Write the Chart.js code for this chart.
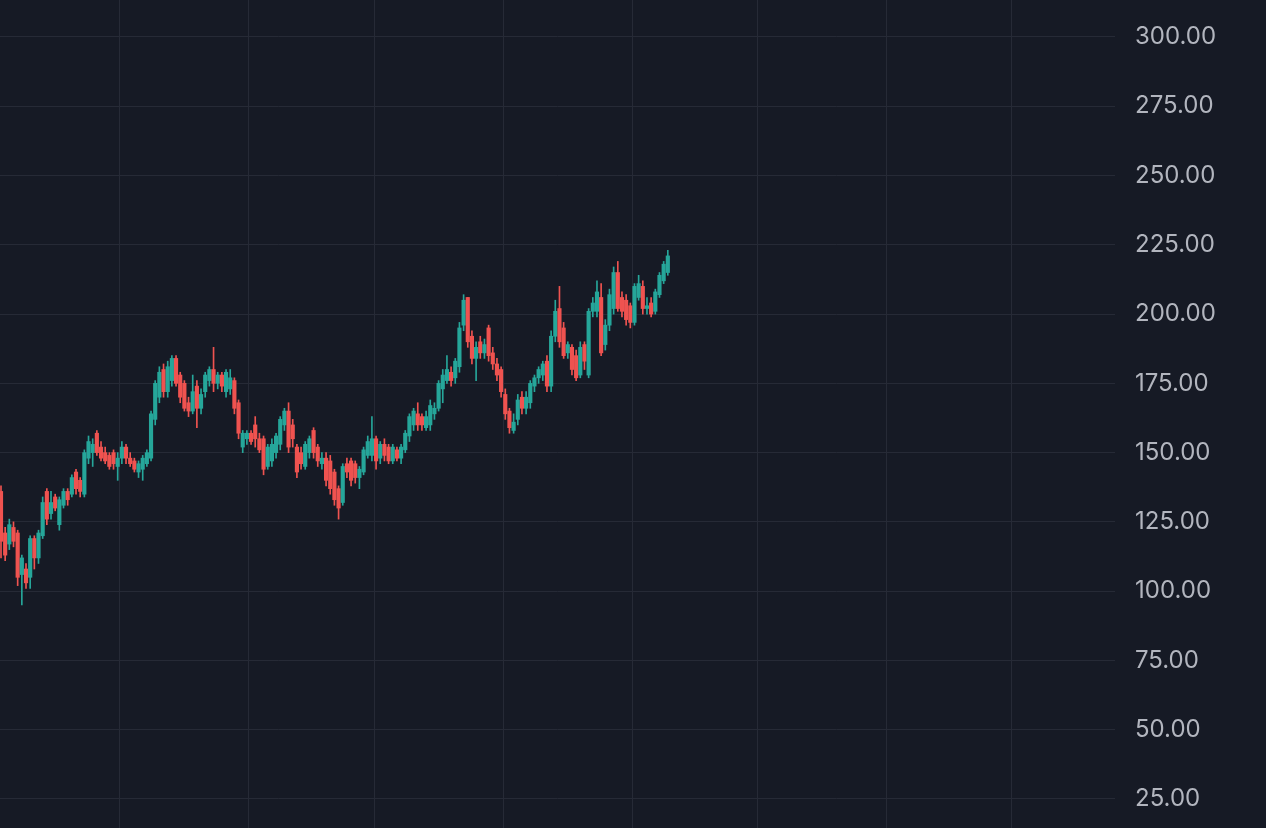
<!DOCTYPE html>
<html>
<head>
<meta charset="utf-8">
<script src="https://cdn.jsdelivr.net/npm/chart.js@4.4.1/dist/chart.umd.min.js"></script>
<style>
  html, body { margin: 0; padding: 0; background: #161a25; }
  #wrap { width: 1266px; height: 828px; }
</style>
</head>
<body>
<div id="wrap"><canvas id="candles"></canvas></div>
<script>
// daily OHLC
const opens = [
  136,121,117,123,121,106,108,105,119,112,
  120,136,128,134,124,131,136,135,143,140,
  135,148,150,157,152,150,149,150,145,148,
  152,148,147,143,144,146,148,162,170,180,
  172,176,184,178,175,168,165,174,166,172,
  176,180,175,178,
  172,173,176,168,152,
  155,157,160,155,155,145,147,150,153,160,
  165,160,152,150,145,150,158,152,146,148,
  147,143,137,132,146,147,146,141,143,149,
  149,155,148,153,152,147,151,148,151,156,
  160,164,163,159,160,164,166,173,176,179,
  177,181,196,206,192,184,190,186,195,186,
  182,180,171,165,158,162,170,166,168,174,
  177,178,183,174,192,202,195,186,
  188,185,178,189,178,201,201,206,189,196,202,
  215,206,205,203,197,206,210,202,204,201,207,212,215
];
const highs = [
  138,123,126,125,122,113,110,120,120,122,
  134,137,136,135,134,137,137,142,144,141,
  151,156,155,158,154,152,150,151,150,154,
  153,150,148,147,149,151,165,176,181,182,
  183,185,185,179,176,170,178,176,173,179,
  181,188,179,179,
  180,180,177,169,158,
  158,158,163,157,156,153,155,157,163,166,
  168,162,153,152,154,156,159,153,150,150,
  149,144,138,146,148,148,147,145,152,156,
  163,156,154,155,153,153,152,153,158,164,
  166,168,164,165,169,168,176,180,185,181,
  184,197,207,206,194,190,192,191,196,188,
  184,181,173,166,164,171,172,172,176,178,
  181,183,185,194,205,210,197,190,
  189,187,190,190,202,206,212,211,198,209,217,
  219,208,207,204,211,214,212,206,206,209,215,219,223
];
const lows = [
  112,111,115,116,102,95,101,101,108,110,
  119,124,126,129,122,130,131,134,135,134,
  134,146,145,149,147,146,144,144,140,146,
  146,145,143,141,140,145,147,160,168,170,
  170,174,174,168,165,163,164,159,164,170,
  174,172,173,172,
  170,171,164,155,150,
  153,153,152,150,142,144,145,148,151,158,
  150,152,141,144,144,148,148,145,144,138,
  135,131,126,131,141,138,139,137,142,148,
  147,144,146,147,146,146,147,146,150,154,
  158,158,158,158,158,162,165,168,175,174,
  175,179,194,188,182,176,184,184,183,180,
  176,170,162,157,157,160,164,164,166,172,
  175,176,172,172,190,188,184,184,
  178,176,177,180,177,199,199,185,187,194,200,
  201,199,196,195,196,205,200,200,199,200,206,211,214
];
const closes = [
  118,113,124,118,105,112,103,119,112,121,
  132,126,132,130,133,136,133,141,137,136,
  150,154,153,150,148,147,145,146,148,152,
  148,146,144,146,148,150,164,175,179,172,
  181,184,175,170,166,165,172,166,171,178,
  180,175,178,174,
  179,177,166,157,157,
  157,154,155,151,144,152,153,156,162,165,
  152,155,143,146,153,155,150,147,148,140,
  137,133,130,145,143,140,141,144,151,154,
  155,147,153,149,147,152,148,152,157,163,
  165,160,160,163,167,166,175,178,180,176,
  183,195,205,190,184,188,186,189,185,182,
  178,172,164,159,161,169,166,170,175,177,
  180,182,174,192,201,190,185,189,
  180,177,188,183,201,204,208,186,196,207,215,
  202,201,198,197,210,211,202,203,200,208,214,218,221
];

// month boundaries (in days from the first candle) and price ticks
const monthLines = [28.5, 59.5, 89.5, 120.5, 151.5, 181.5, 212.5, 242.5];
const priceTicks = [25, 50, 75, 100, 125, 150, 175, 200, 225, 250, 275, 300];

const UP = '#26a69a';
const DOWN = '#ef5350';
const colors = opens.map((o, i) => closes[i] >= o ? UP : DOWN);

const wicks = lows.map((l, i) => ({ x: i, y: [l, highs[i]] }));
const bodies = opens.map((o, i) => ({ x: i, y: [o, closes[i]] }));

new Chart(document.getElementById('candles'), {
  type: 'bar',
  data: {
    datasets: [
      {
        data: wicks,
        backgroundColor: colors,
        barThickness: 1,
        grouped: false,
        borderWidth: 0
      },
      {
        data: bodies,
        backgroundColor: colors,
        barThickness: 3.5,
        minBarLength: 1,
        grouped: false,
        borderWidth: 0
      }
    ]
  },
  options: {
    responsive: true,
    maintainAspectRatio: false,
    animation: false,
    layout: { padding: 0 },
    plugins: { legend: { display: false }, tooltip: { enabled: false } },
    scales: {
      x: {
        type: 'linear',
        min: -0.24,
        max: 267.3,
        offset: false,
        afterBuildTicks: (s) => { s.ticks = monthLines.map(v => ({ value: v })); },
        afterFit: (s) => { s.height = 0; s.paddingLeft = 0; s.paddingRight = 0; },
        grid: { color: '#262a36', drawTicks: false, offset: false },
        border: { display: false },
        ticks: { display: false }
      },
      y: {
        position: 'right',
        min: 14.53,
        max: 313.35,
        afterBuildTicks: (s) => { s.ticks = priceTicks.map(v => ({ value: v })); },
        // labels sit inside the plot height, so no extra room top/bottom
        afterFit: (s) => { s.width = 151; s.paddingTop = 0; s.paddingBottom = 0; },
        grid: { color: '#262a36', drawTicks: false },
        border: { display: false },
        ticks: {
          padding: 20,
          crossAlign: 'near',
          autoSkip: false,
          color: '#b2b5be',
          font: { family: 'Inter', size: 24 },
          callback: (v) => v.toFixed(2)
        }
      }
    }
  }
});
</script>
</body>
</html>
